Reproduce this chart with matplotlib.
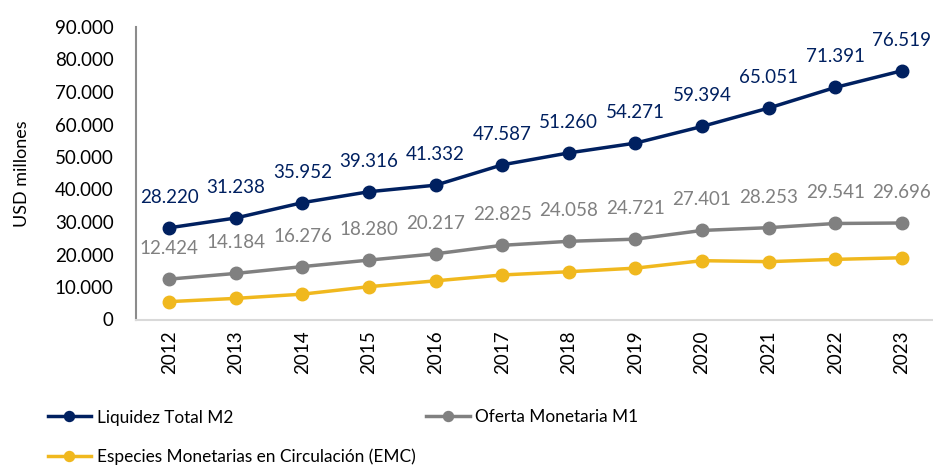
import numpy as np
import matplotlib.pyplot as plt

years = ['2012', '2013', '2014', '2015', '2016', '2017', '2018', '2019', '2020', '2021', '2022', '2023']
m2 = [28220, 31238, 35952, 39316, 41332, 47587, 51260, 54271, 59394, 65051, 71391, 76519]
m1 = [12424, 14184, 16276, 18280, 20217, 22825, 24058, 24721, 27401, 28253, 29541, 29696]
# EMC values (no labels in the source)
emc = [5500, 6500, 7800, 10100, 11900, 13700, 14700, 15800, 18100, 17800, 18500, 19000]

navy = '#002060'
gray = '#808080'
gold = '#F0B81E'

plt.rcParams['font.family'] = ['Lato', 'DejaVu Sans']

fig = plt.figure(figsize=(9.33, 4.66), dpi=100)
ax = fig.add_axes([136 / 933, (466 - 319.5) / 466, (935 - 136) / 933, (319.5 - 27) / 466])

x = np.arange(len(years))
ax.plot(x, m2, color=navy, lw=2.5, marker='o', ms=9, label='Liquidez Total M2')
ax.plot(x, m1, color=gray, lw=2.5, marker='o', ms=9, label='Oferta Monetaria M1')
ax.plot(x, emc, color=gold, lw=2.5, marker='o', ms=9, label='Especies Monetarias en Circulación (EMC)')

for xi, v in zip(x, m2):
    ax.annotate(f'{v:,}'.replace(',', '.'), (xi, v), xytext=(0, 22), textcoords='offset points',
                ha='center', va='center', color=navy, fontsize=13.5)
for xi, v in zip(x, m1):
    ax.annotate(f'{v:,}'.replace(',', '.'), (xi, v), xytext=(0, 22), textcoords='offset points',
                ha='center', va='center', color=gray, fontsize=13.5)

ax.set_xlim(-0.5, len(years) - 0.5)
ax.set_ylim(0, 90000)
ax.set_yticks(np.arange(0, 90001, 10000))
ax.set_yticklabels(['0'] + [f'{v:,}'.replace(',', '.') for v in range(10000, 90001, 10000)], fontsize=13.5)
ax.set_xticks(x)
ax.set_xticklabels(years, rotation=90, fontsize=13.5)
ax.tick_params(axis='y', length=0, pad=16)
ax.tick_params(axis='x', length=0, pad=8)
ax.set_ylabel('USD millones', fontsize=13, labelpad=18)

for s in ['top', 'right']:
    ax.spines[s].set_visible(False)
ax.spines['left'].set_color('#8c8c8c')
ax.spines['left'].set_linewidth(1.5)
ax.spines['bottom'].set_color('#d9d9d9')
ax.spines['bottom'].set_linewidth(1.5)

h, l = ax.get_legend_handles_labels()
fig.legend([h[0], h[2], h[1]], [l[0], l[2], l[1]], ncol=2, loc='upper left',
           bbox_to_anchor=(32 / 933, 1 - 394 / 466), frameon=False, fontsize=12.4,
           handlelength=2.55, handletextpad=0.3, columnspacing=0.6, labelspacing=1.35,
           markerscale=0.8)

fig.savefig('out.png', dpi=100)
